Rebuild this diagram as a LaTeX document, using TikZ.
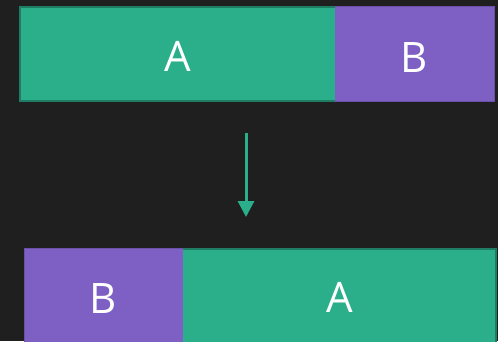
\documentclass[tikz,border=0pt]{standalone}
\usepackage{fontspec}
\setmainfont{Open Sans}
\usetikzlibrary{arrows.meta}
\definecolor{bg}{HTML}{1F1F1F}
\definecolor{gr}{HTML}{2AAF8A}
\definecolor{grd}{HTML}{1E7D63}
\definecolor{pu}{HTML}{7E60C4}
\definecolor{pud}{HTML}{6A50A8}
\tikzset{
  blk/.style={anchor=north west, inner sep=0pt, outer sep=0pt, text=white,
    font=\fontsize{42}{42}\selectfont, text height=36pt, text depth=0pt},
  ablk/.style={blk, fill=gr, draw=grd, line width=2.5pt},
  bblk/.style={blk, fill=pu},
  bedge/.style={draw=pud, line width=1pt},
  arr/.style={draw=gr, line width=3pt, -{Triangle[width=16pt,length=16pt]}}
}
\begin{document}
\begin{tikzpicture}[x=1pt,y=-1pt]
\fill[bg] (0,0) rectangle (498,341);
\useasboundingbox (0,0) rectangle (498,341);
\begin{scope}
\clip (0,0) rectangle (498,341);
\node[ablk, minimum width=318pt, minimum height=94pt] (a1) at (20,7) {};
\node[bblk, minimum width=159pt, minimum height=95pt] (b1) at (335,6.5) {B};
\draw[bedge] (b1.north west) -- (b1.north east) -- (b1.south east) -- (b1.south west);
\node[ablk, minimum width=316pt, minimum height=100pt] (a2) at (180,249) {};
\node[bblk, minimum width=159pt, minimum height=93pt] (b2) at (24,248.5) {B};
\draw[bedge] (b2.south west) -- (b2.north west) -- (b2.north east);
\end{scope}
\node[blk, anchor=center] (ta1) at (178,53.5) {A};
\node[blk, anchor=center] (ta2) at (340,294) {A};
\coordinate (s) at (246,133);
\coordinate (e) at (246,217);
\draw[arr] (s) -- (e);
\end{tikzpicture}
\end{document}
